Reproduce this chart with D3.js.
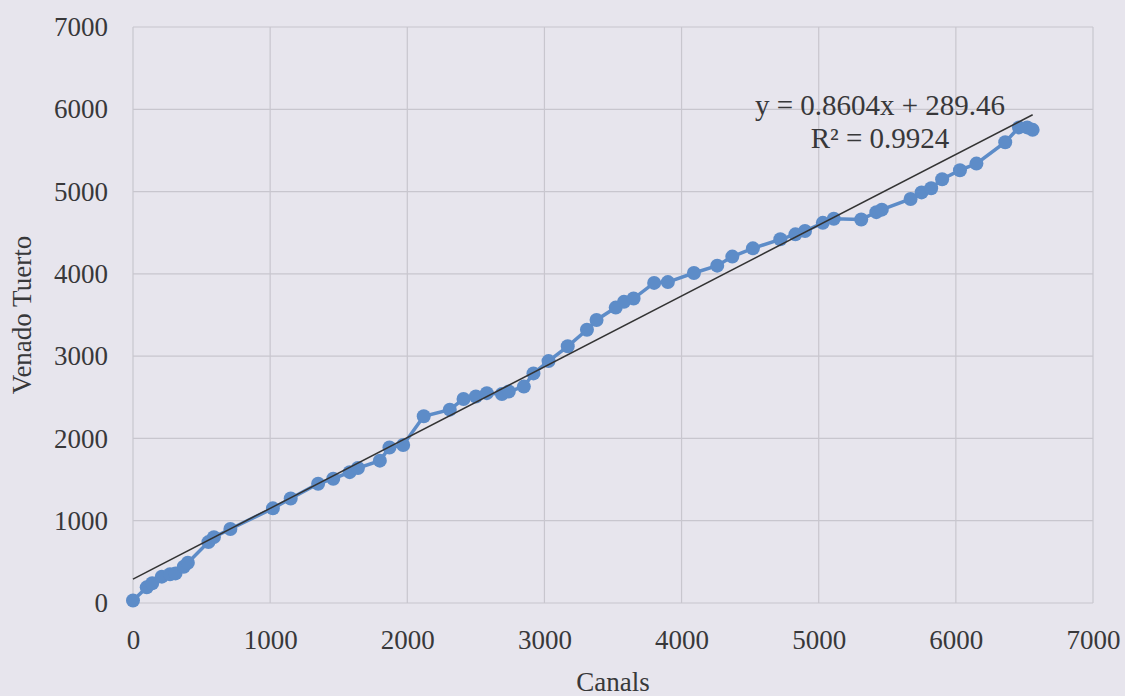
<!DOCTYPE html>
<html lang="en">
<head>
    <meta charset="UTF-8">
    <script src="https://d3js.org/d3.v7.min.js"></script>
    <title>Canals vs Venado Tuerto</title>
    <style>
        body {
            margin: 0;
            padding: 0;
            background-color: #e7e5ed;
        }
        svg text {
            font-family: "Liberation Serif", "Times New Roman", serif;
            fill: #38383a;
        }
    </style>
</head>
<body>
    <svg id="chart" width="1125" height="696"></svg>
    <script>
        // values
        const canals = [0, 100, 140, 210, 270, 310, 370, 400, 550, 590, 710, 1020, 1150, 1350, 1460,
            1580, 1640, 1800, 1870, 1970, 2120, 2310, 2410, 2500, 2580, 2690, 2740, 2850, 2920, 3030,
            3170, 3310, 3380, 3520, 3580, 3650, 3800, 3900, 4090, 4260, 4370, 4520, 4720, 4830, 4900,
            5030, 5110, 5310, 5420, 5460, 5670, 5750, 5820, 5900, 6030, 6150, 6360, 6460, 6520, 6560];
        const venado = [30, 190, 240, 320, 350, 360, 440, 490, 740, 800, 900, 1150, 1270, 1450, 1510,
            1590, 1640, 1730, 1890, 1920, 2270, 2350, 2480, 2510, 2550, 2540, 2570, 2630, 2790, 2940,
            3120, 3320, 3440, 3590, 3660, 3700, 3890, 3900, 4010, 4100, 4210, 4310, 4420, 4480, 4520,
            4620, 4670, 4660, 4750, 4780, 4910, 4990, 5040, 5150, 5260, 5340, 5600, 5780, 5780, 5750];
        const ticks = [0, 1000, 2000, 3000, 4000, 5000, 6000, 7000];
        const slope = 0.8604;
        const intercept = 289.46;
        const equationLines = ["y = 0.8604x + 289.46", "R\u00b2 = 0.9924"];

        const svg = d3.select("#chart");
        const margin = {top: 27, right: 32, bottom: 93, left: 133};
        const width = 1125 - margin.left - margin.right;
        const height = 696 - margin.top - margin.bottom;

        const x = d3.scaleLinear().domain([0, 7000]).range([0, width]);
        const y = d3.scaleLinear().domain([0, 7000]).range([height, 0]);

        const g = svg.append("g").attr("transform", `translate(${margin.left},${margin.top})`);

        // grid
        g.selectAll(".vgrid").data(ticks).enter().append("line")
            .attr("x1", d => x(d)).attr("x2", d => x(d))
            .attr("y1", 0).attr("y2", height)
            .attr("stroke", "#c8c6ce").attr("stroke-width", 1.2);
        g.selectAll(".hgrid").data(ticks).enter().append("line")
            .attr("y1", d => y(d)).attr("y2", d => y(d))
            .attr("x1", 0).attr("x2", width)
            .attr("stroke", "#c8c6ce").attr("stroke-width", 1.2);

        // axes (labels only)
        const xAxis = g.append("g")
            .attr("transform", `translate(0,${height})`)
            .call(d3.axisBottom(x).tickValues(ticks).tickSize(0).tickPadding(27).tickFormat(d3.format("d")));
        const yAxis = g.append("g")
            .call(d3.axisLeft(y).tickValues(ticks).tickSize(0).tickPadding(25).tickFormat(d3.format("d")));
        [xAxis, yAxis].forEach(a => {
            a.select(".domain").remove();
            a.selectAll("text").attr("font-size", 27)
                .style("font-family", "'Liberation Serif', serif").attr("fill", "#38383a");
        });

        // series
        const pts = canals.map((c, i) => [c, venado[i]]);
        g.append("path")
            .datum(pts)
            .attr("fill", "none")
            .attr("stroke", "#5d8cc8")
            .attr("stroke-width", 3.5)
            .attr("d", d3.line().x(d => x(d[0])).y(d => y(d[1])));

        g.selectAll("circle").data(pts).enter().append("circle")
            .attr("cx", d => x(d[0]))
            .attr("cy", d => y(d[1]))
            .attr("r", 7)
            .attr("fill", "#5d8cc8");

        // linear trend line
        const xMax = d3.max(canals);
        g.append("line")
            .attr("x1", x(0)).attr("y1", y(intercept))
            .attr("x2", x(xMax)).attr("y2", y(slope * xMax + intercept))
            .attr("stroke", "#333")
            .attr("stroke-width", 1.5);

        g.selectAll(".eq").data(equationLines).enter().append("text")
            .attr("x", 880 - margin.left)
            .attr("y", (d, i) => 115 - margin.top + i * 33)
            .attr("text-anchor", "middle")
            .attr("font-size", 29)
            .text(d => d);

        // titles
        svg.append("text")
            .attr("x", margin.left + width / 2)
            .attr("y", 691)
            .attr("text-anchor", "middle")
            .attr("font-size", 27)
            .text("Canals");
        svg.append("text")
            .attr("transform", `translate(31,${margin.top + height / 2}) rotate(-90)`)
            .attr("text-anchor", "middle")
            .attr("font-size", 27)
            .text("Venado Tuerto");
    </script>
</body>
</html>
